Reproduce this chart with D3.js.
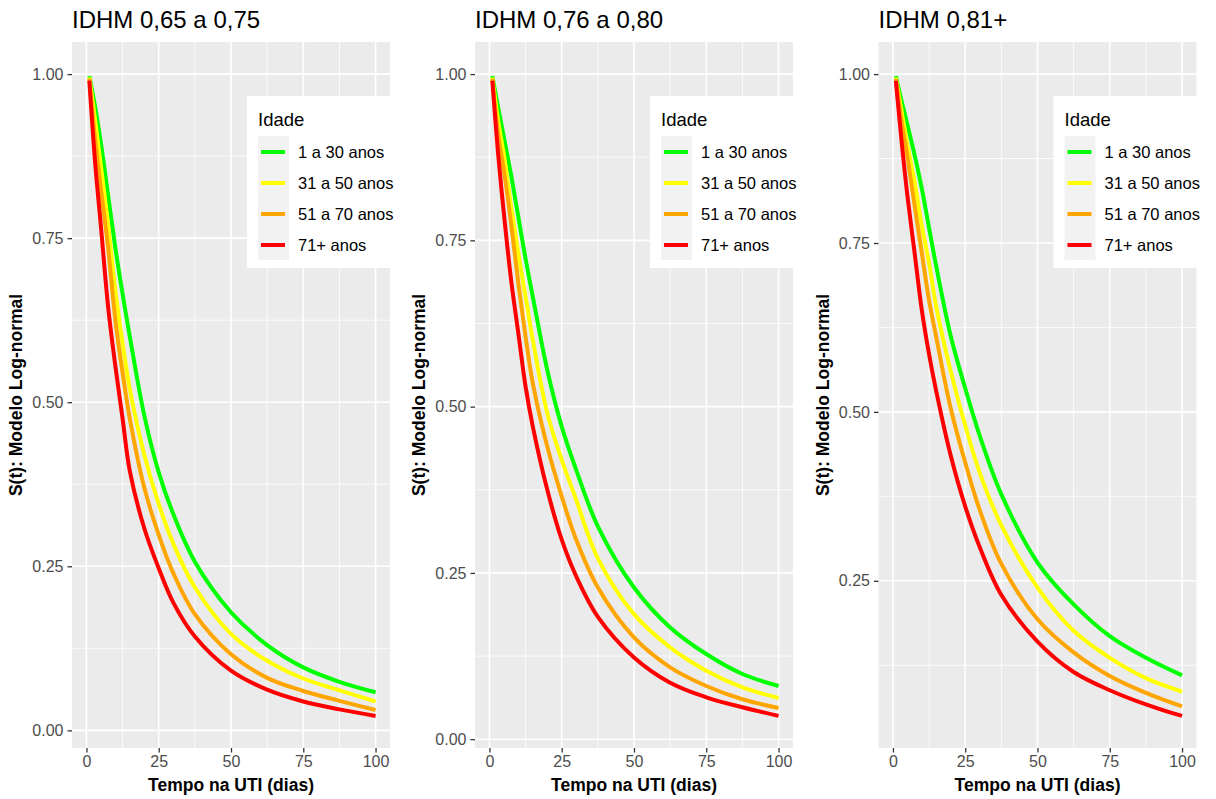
<!DOCTYPE html>
<html>
<head>
<meta charset="utf-8">
<script src="https://cdn.jsdelivr.net/npm/d3@7"></script>
<style>
  body { margin: 0; background: #fff; }
  svg text { font-family: "Liberation Sans", Arial, sans-serif; }
</style>
</head>
<body>
<svg id="chart" width="1216" height="799"></svg>
<script>
// survival curves S(t), log-normal model, by age group and IDHM band
const days = [1, 3, 5, 7.5, 10, 12.5, 15, 20, 25, 30, 37.5, 50, 62.5, 75, 87.5, 100];

const groups = ['1 a 30 anos', '31 a 50 anos', '51 a 70 anos', '71+ anos'];
const groupColors = ['#00FF00', '#FFFF00', '#FFA500', '#FF0000'];

const panelTitles = ['IDHM 0,65 a 0,75', 'IDHM 0,76 a 0,80', 'IDHM 0,81+'];

const idhmLow = [
    [0.997, 0.95, 0.895, 0.815, 0.735, 0.665, 0.60, 0.48, 0.393, 0.33, 0.257, 0.180, 0.130, 0.096, 0.074, 0.058],
    [0.995, 0.93, 0.86, 0.77, 0.67, 0.59, 0.52, 0.42, 0.345, 0.285, 0.218, 0.147, 0.106, 0.079, 0.061, 0.044],
    [0.993, 0.90, 0.825, 0.735, 0.625, 0.545, 0.475, 0.37, 0.298, 0.24, 0.177, 0.116, 0.080, 0.060, 0.045, 0.031],
    [0.99, 0.865, 0.768, 0.645, 0.555, 0.475, 0.395, 0.308, 0.247, 0.195, 0.143, 0.091, 0.062, 0.044, 0.032, 0.022]
];
const idhmMid = [
    [0.997, 0.95, 0.905, 0.848, 0.785, 0.722, 0.665, 0.555, 0.47, 0.405, 0.32, 0.228, 0.168, 0.128, 0.098, 0.080],
    [0.995, 0.93, 0.878, 0.80, 0.73, 0.665, 0.60, 0.49, 0.42, 0.36, 0.272, 0.188, 0.138, 0.103, 0.078, 0.062],
    [0.993, 0.91, 0.855, 0.775, 0.685, 0.605, 0.535, 0.44, 0.365, 0.30, 0.228, 0.153, 0.108, 0.080, 0.060, 0.047],
    [0.99, 0.88, 0.79, 0.69, 0.61, 0.53, 0.47, 0.375, 0.30, 0.245, 0.184, 0.123, 0.085, 0.063, 0.048, 0.035]
];
const idhmHigh = [
    [0.997, 0.96, 0.925, 0.88, 0.83, 0.772, 0.715, 0.612, 0.535, 0.465, 0.378, 0.277, 0.215, 0.168, 0.136, 0.110],
    [0.995, 0.945, 0.895, 0.84, 0.775, 0.72, 0.655, 0.56, 0.48, 0.41, 0.332, 0.240, 0.176, 0.136, 0.106, 0.086],
    [0.993, 0.93, 0.878, 0.805, 0.735, 0.665, 0.61, 0.505, 0.425, 0.355, 0.275, 0.193, 0.144, 0.109, 0.084, 0.064],
    [0.99, 0.90, 0.82, 0.735, 0.65, 0.585, 0.53, 0.435, 0.36, 0.30, 0.229, 0.160, 0.115, 0.088, 0.067, 0.050]
];

const xTicks = [0, 25, 50, 75, 100];
const yTicks = [0, 0.25, 0.5, 0.75, 1];

const xTitle = 'Tempo na UTI (dias)';
const yTitle = 'S(t): Modelo Log-normal';
const legendTitle = 'Idade';

const panels = [
    {title: panelTitles[0], series: idhmLow, left: 72},
    {title: panelTitles[1], series: idhmMid, left: 475},
    {title: panelTitles[2], series: idhmHigh, left: 878.5}
];

const PANEL_W = 318;
const PANEL_TOP = 42;
const PANEL_H = 706;
const BG = '#EBEBEB';
const TEXT_GREY = '#4D4D4D';

const svg = d3.select('#chart');

// ggplot style 5% expansion on both sides
function expand([lo, hi]) {
    let pad = (hi - lo) * 0.05;
    return [lo - pad, hi + pad];
}

function midpoints(ticks) {
    let out = [];
    for (let i = 1; i < ticks.length; i++) out.push((ticks[i - 1] + ticks[i]) / 2);
    return out;
}

function drawPanel(panel) {
    let g = svg.append('g')
        .attr('transform', 'translate(' + panel.left + ',' + PANEL_TOP + ')');

    let yMin = d3.min(panel.series, s => d3.min(s));
    let x = d3.scaleLinear().domain(expand(d3.extent(xTicks))).range([0, PANEL_W]);
    let y = d3.scaleLinear().domain(expand([yMin, 1])).range([PANEL_H, 0]);

    let yShown = yTicks.filter(v => v >= y.domain()[0]);
    let yMinor = midpoints(yTicks).filter(v => v >= y.domain()[0]);

    g.append('rect')
        .attr('width', PANEL_W)
        .attr('height', PANEL_H)
        .attr('fill', BG);

    // minor grid
    g.append('g').selectAll('line').data(midpoints(xTicks)).join('line')
        .attr('x1', d => x(d)).attr('x2', d => x(d))
        .attr('y1', 0).attr('y2', PANEL_H)
        .attr('stroke', '#fff').attr('stroke-width', 0.8);
    g.append('g').selectAll('line').data(yMinor).join('line')
        .attr('x1', 0).attr('x2', PANEL_W)
        .attr('y1', d => y(d)).attr('y2', d => y(d))
        .attr('stroke', '#fff').attr('stroke-width', 0.8);

    // major grid
    g.append('g').selectAll('line').data(xTicks).join('line')
        .attr('x1', d => x(d)).attr('x2', d => x(d))
        .attr('y1', 0).attr('y2', PANEL_H)
        .attr('stroke', '#fff').attr('stroke-width', 1.6);
    g.append('g').selectAll('line').data(yShown).join('line')
        .attr('x1', 0).attr('x2', PANEL_W)
        .attr('y1', d => y(d)).attr('y2', d => y(d))
        .attr('stroke', '#fff').attr('stroke-width', 1.6);

    // axes
    let xAxis = g.append('g')
        .attr('transform', 'translate(0,' + PANEL_H + ')')
        .call(d3.axisBottom(x).tickValues(xTicks).tickSize(4.5).tickPadding(3).tickFormat(d3.format('d')));
    let yAxis = g.append('g')
        .call(d3.axisLeft(y).tickValues(yShown).tickSize(4.5).tickPadding(4).tickFormat(d3.format('.2f')));
    for (let ax of [xAxis, yAxis]) {
        ax.select('.domain').remove();
        ax.selectAll('.tick line').attr('stroke', '#333').attr('stroke-width', 1.3);
        ax.selectAll('.tick text')
            .attr('fill', TEXT_GREY)
            .style('font-size', '16px');
    }

    // curves, oldest group drawn last so it sits on top
    let line = d3.line()
        .x((d, i) => x(days[i]))
        .y(d => y(d))
        .curve(d3.curveCatmullRom.alpha(0.5));
    g.append('g').selectAll('path').data(panel.series).join('path')
        .attr('d', d => line(d))
        .attr('fill', 'none')
        .attr('stroke', (d, i) => groupColors[i])
        .attr('stroke-width', 4)
        .attr('stroke-linejoin', 'round');

    // titles
    g.append('text')
        .attr('x', 0).attr('y', -14)
        .style('font-size', '24px')
        .attr('fill', '#000')
        .text(panel.title);
    g.append('text')
        .attr('x', PANEL_W / 2).attr('y', PANEL_H + 43)
        .attr('text-anchor', 'middle')
        .style('font-size', '17.5px').style('font-weight', 'bold')
        .text(xTitle);
    g.append('text')
        .attr('transform', 'translate(' + (-50) + ',' + (PANEL_H / 2) + ') rotate(-90)')
        .attr('text-anchor', 'middle')
        .style('font-size', '17.5px').style('font-weight', 'bold')
        .text(yTitle);

    // legend inside the panel, top right
    let legend = g.append('g')
        .attr('transform', 'translate(' + (PANEL_W - 143) + ',54)');
    legend.append('rect')
        .attr('width', 155).attr('height', 172)
        .attr('fill', '#fff');
    legend.append('text')
        .attr('x', 11).attr('y', 30)
        .style('font-size', '18.5px')
        .text(legendTitle);
    let rows = legend.selectAll('.key').data(groups).join('g')
        .attr('transform', (d, i) => 'translate(11,' + (40 + i * 31) + ')');
    rows.append('rect')
        .attr('width', 31).attr('height', 31)
        .attr('fill', '#F2F2F2');
    rows.append('line')
        .attr('x1', 3).attr('x2', 27)
        .attr('y1', 16).attr('y2', 16)
        .attr('stroke', (d, i) => groupColors[i])
        .attr('stroke-width', 4);
    rows.append('text')
        .attr('x', 40).attr('y', 16)
        .attr('dy', '0.35em')
        .style('font-size', '16.5px')
        .text(d => d);
}

panels.forEach(drawPanel);
</script>
</body>
</html>
